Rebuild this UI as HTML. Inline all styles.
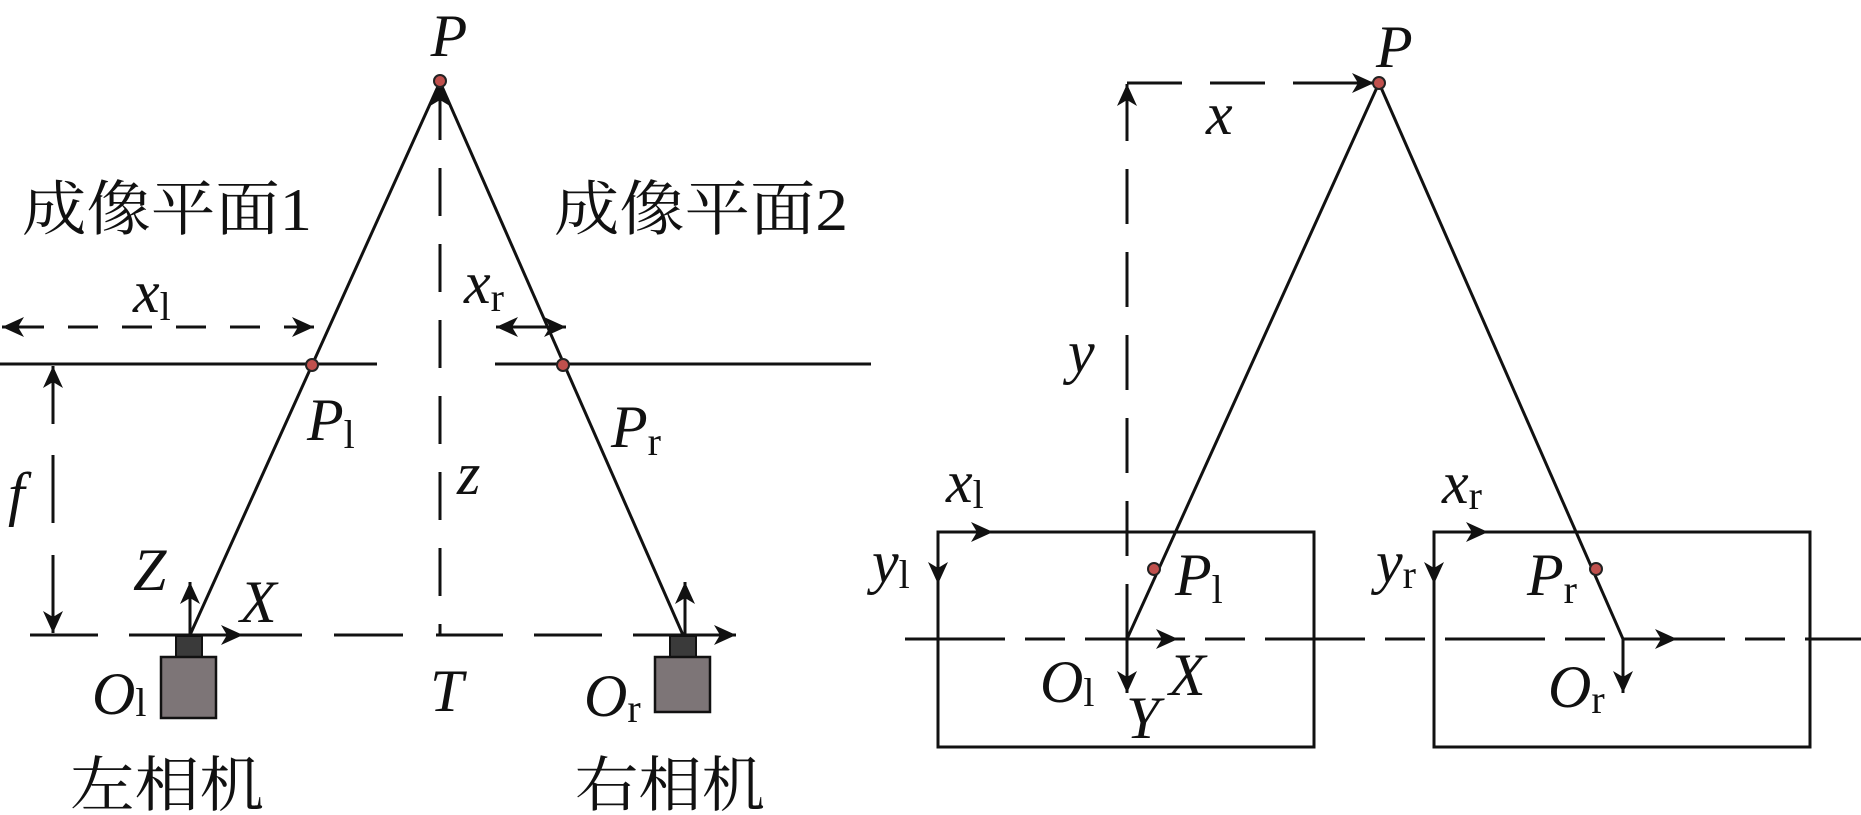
<!DOCTYPE html>
<html><head><meta charset="utf-8"><style>html,body{margin:0;padding:0;background:#fff}svg{display:block}
.it{font-family:"Liberation Serif","DejaVu Serif",serif;font-style:italic;font-size:60px;fill:#111}
.sb{font-style:normal;font-size:40px}
.cj{font-family:"Liberation Serif","Noto Serif CJK SC","Noto Sans CJK SC",serif;font-size:60px;fill:#111}
</style></head>
<body>
<svg width="1861" height="815" viewBox="0 0 1861 815" xmlns="http://www.w3.org/2000/svg">
<defs>
<marker id="a" markerUnits="userSpaceOnUse" markerWidth="30" markerHeight="24" refX="22" refY="12" orient="auto">
<path d="M0,2 L22,12 L0,22 L6,12 Z" fill="#111"/>
</marker>
</defs>
<g stroke="#111" stroke-width="3" fill="none">
<!-- left panel -->
<line x1="440" y1="92" x2="440" y2="635" stroke-dasharray="48 28"/>
<path d="M30,635H98 M129,635H302 M334,635H403 M436,635H503 M534,635H602 M633,635H700"/>
<line x1="683" y1="635" x2="736" y2="635" marker-end="url(#a)"/>
<line x1="0" y1="364" x2="377" y2="364"/>
<line x1="495" y1="364" x2="871" y2="364"/>
<line x1="440" y1="82" x2="190" y2="635"/>
<line x1="440" y1="82" x2="683" y2="635"/>
<line x1="440" y1="100" x2="440" y2="84" marker-end="url(#a)"/>
<line x1="30" y1="327" x2="2" y2="327" marker-end="url(#a)"/>
<line x1="14" y1="327" x2="314" y2="327" stroke-dasharray="30 24" marker-end="url(#a)"/>
<line x1="530" y1="327" x2="496" y2="327" marker-end="url(#a)"/>
<line x1="510" y1="327" x2="566" y2="327" marker-end="url(#a)"/>
<line x1="53" y1="370" x2="53" y2="424"/>
<line x1="53" y1="390" x2="53" y2="366" marker-end="url(#a)"/>
<line x1="53" y1="455" x2="53" y2="523"/>
<line x1="53" y1="555" x2="53" y2="633" marker-end="url(#a)"/>
<line x1="190" y1="635" x2="190" y2="582" marker-end="url(#a)"/>
<line x1="190" y1="635" x2="243" y2="635" marker-end="url(#a)"/>
<line x1="685" y1="635" x2="685" y2="582" marker-end="url(#a)"/>
<!-- right panel -->
<rect x="938" y="532" width="376" height="215"/>
<rect x="1434" y="532" width="376" height="215"/>
<line x1="905" y1="639" x2="1861" y2="639" stroke-dasharray="100 20 40 20"/>
<line x1="1127" y1="639" x2="1127" y2="85" stroke-dasharray="55 28"/>
<line x1="1127" y1="110" x2="1127" y2="84" marker-end="url(#a)"/>
<line x1="1127" y1="83" x2="1374" y2="83" stroke-dasharray="55 28"/>
<line x1="1340" y1="83" x2="1374" y2="83" marker-end="url(#a)"/>
<line x1="1379" y1="83" x2="1127" y2="639"/>
<line x1="1379" y1="83" x2="1623" y2="639"/>
<line x1="938" y1="532" x2="993" y2="532" marker-end="url(#a)"/>
<line x1="938" y1="532" x2="938" y2="584" marker-end="url(#a)"/>
<line x1="1434" y1="532" x2="1488" y2="532" marker-end="url(#a)"/>
<line x1="1434" y1="532" x2="1434" y2="584" marker-end="url(#a)"/>
<line x1="1127" y1="639" x2="1178" y2="639" marker-end="url(#a)"/>
<line x1="1127" y1="639" x2="1127" y2="693" marker-end="url(#a)"/>
<line x1="1623" y1="639" x2="1677" y2="639" marker-end="url(#a)"/>
<line x1="1623" y1="639" x2="1623" y2="693" marker-end="url(#a)"/>
</g>
<!-- cameras -->
<rect x="176" y="636" width="26" height="21" fill="#3a3a3a" stroke="#111" stroke-width="2"/>
<rect x="161" y="657" width="55" height="61" fill="#7d7577" stroke="#111" stroke-width="2.5"/>
<rect x="670" y="636" width="26" height="21" fill="#3a3a3a" stroke="#111" stroke-width="2"/>
<rect x="655" y="657" width="55" height="55" fill="#7d7577" stroke="#111" stroke-width="2.5"/>
<!-- dots -->
<g fill="#c0504d" stroke="#222" stroke-width="2">
<circle cx="440" cy="81" r="6"/>
<circle cx="312" cy="365" r="6"/>
<circle cx="563" cy="365" r="6"/>
<circle cx="1379" cy="83" r="6"/>
<circle cx="1154" cy="569" r="6"/>
<circle cx="1596" cy="569" r="6"/>
</g>
<g class="it">
<text x="449" y="56" text-anchor="middle">P</text>
<text x="133" y="312">x<tspan class="sb" dy="8">l</tspan></text>
<text x="464" y="303">x<tspan class="sb" dy="8">r</tspan></text>
<text x="307" y="440">P<tspan class="sb" dy="8">l</tspan></text>
<text x="611" y="447">P<tspan class="sb" dy="8">r</tspan></text>
<text x="8" y="514">f</text>
<text x="457" y="494">z</text>
<text x="133" y="590">Z</text>
<text x="240" y="622">X</text>
<text x="92" y="714">O<tspan class="sb" dy="2">l</tspan></text>
<text x="430" y="711">T</text>
<text x="584" y="716">O<tspan class="sb" dy="6">r</tspan></text>
<text x="1376" y="67">P</text>
<text x="1206" y="134">x</text>
<text x="1068" y="372">y</text>
<text x="946" y="502">x<tspan class="sb" dy="6">l</tspan></text>
<text x="872" y="582">y<tspan class="sb" dy="6">l</tspan></text>
<text x="1442" y="503">x<tspan class="sb" dy="6">r</tspan></text>
<text x="1376" y="582">y<tspan class="sb" dy="6">r</tspan></text>
<text x="1175" y="595">P<tspan class="sb" dy="8">l</tspan></text>
<text x="1527" y="595">P<tspan class="sb" dy="8">r</tspan></text>
<text x="1040" y="702">O<tspan class="sb" dy="4">l</tspan></text>
<text x="1126" y="738">Y</text>
<text x="1169" y="695">X</text>
<text x="1548" y="707">O<tspan class="sb" dy="6">r</tspan></text>
</g>
<g class="cj">
<text x="22" y="230" textLength="290" lengthAdjust="spacingAndGlyphs">成像平面1</text>
<text x="554" y="230" textLength="294" lengthAdjust="spacingAndGlyphs">成像平面2</text>
<text x="70" y="806" textLength="194" lengthAdjust="spacingAndGlyphs">左相机</text>
<text x="575" y="806" textLength="190" lengthAdjust="spacingAndGlyphs">右相机</text>
</g>
</svg>
</body></html>
